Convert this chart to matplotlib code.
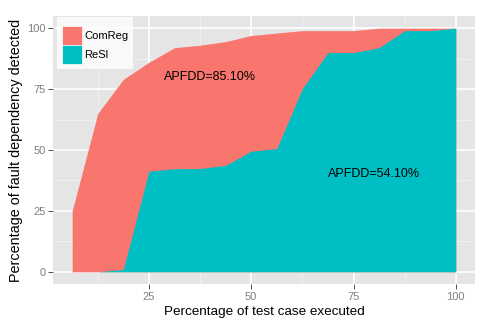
import matplotlib
matplotlib.use("Agg")
import matplotlib.pyplot as plt
from matplotlib.patches import Patch
import numpy as np

x = [6.25, 12.5, 18.75, 25, 31.25, 37.5, 43.75, 50, 56.25, 62.5, 68.75, 75, 81.25, 87.5, 93.75, 100]
comreg = [25, 65, 79, 86, 92, 93, 94.5, 97, 98, 99, 99, 99, 100, 100, 100, 100]
resl = [0, 0, 1, 41.3, 42.3, 42.4, 43.7, 49.5, 50.6, 75.2, 90, 90, 92, 99, 99, 100]
series_names = ["ComReg", "ReSl"]
annotations = [("APFDD=85.10%", 40, 80), ("APFDD=54.10%", 80, 40)]
xticks = [25, 50, 75, 100]
yticks = [0, 25, 50, 75, 100]

RED = "#F8766D"
TEAL = "#00BFC4"

plt.rcParams['font.family'] = ['Liberation Sans', 'DejaVu Sans']
fig = plt.figure(figsize=(4.91, 3.27), dpi=100)
ax = fig.add_axes([53/491, 1-284/327, 422/491, 268/327])
ax.set_facecolor("#E5E5E5")

xmin, xmax = min(x), max(x)
pad = (xmax - xmin) * 0.05
ax.set_xlim(xmin - pad, xmax + pad)
ax.set_ylim(-5, 105)

# grid
for v in [12.5, 37.5, 62.5, 87.5]:
    ax.axvline(v, color="#F2F2F2", lw=0.6, zorder=0.5)
for v in [12.5, 37.5, 62.5, 87.5]:
    ax.axhline(v, color="#F2F2F2", lw=0.6, zorder=0.5)
for v in xticks:
    ax.axvline(v, color="white", lw=1.2, zorder=0.6)
for v in yticks:
    ax.axhline(v, color="white", lw=1.2, zorder=0.6)

ax.fill_between(x, 0, comreg, color=RED, lw=0, zorder=1)
ax.fill_between(x, 0, resl, color=TEAL, lw=0, zorder=2)

for txt, tx, ty in annotations:
    ax.text(tx, ty, txt, ha="center", va="center", fontsize=9, color="black", zorder=3)

for s in ax.spines.values():
    s.set_visible(False)
ax.set_xticks(xticks)
ax.set_yticks(yticks)
ax.tick_params(axis="both", colors="#333333", length=3.5, width=0.6, labelsize=8, labelcolor="#7F7F7F", pad=2)

ax.set_xlabel("Percentage of test case executed", fontsize=9.7, labelpad=3)
ax.set_ylabel("Percentage of fault dependency detected", fontsize=10.4, labelpad=3)

handles = [Patch(facecolor=RED, edgecolor="white", lw=0.5), Patch(facecolor=TEAL, edgecolor="white", lw=0.5)]
leg = ax.legend(handles, series_names, loc="upper left", bbox_to_anchor=(0.01, 0.996),
                borderaxespad=0, frameon=True, fancybox=False, fontsize=8,
                handlelength=1.8, handleheight=2.3, labelspacing=0.0, handletextpad=0.25,
                borderpad=0.4, title=" ", title_fontsize=3)
leg.get_frame().set_facecolor("white")
leg.get_frame().set_edgecolor("white")
leg.get_frame().set_linewidth(0)
leg.set_zorder(5)

fig.savefig("out.png", dpi=100)
